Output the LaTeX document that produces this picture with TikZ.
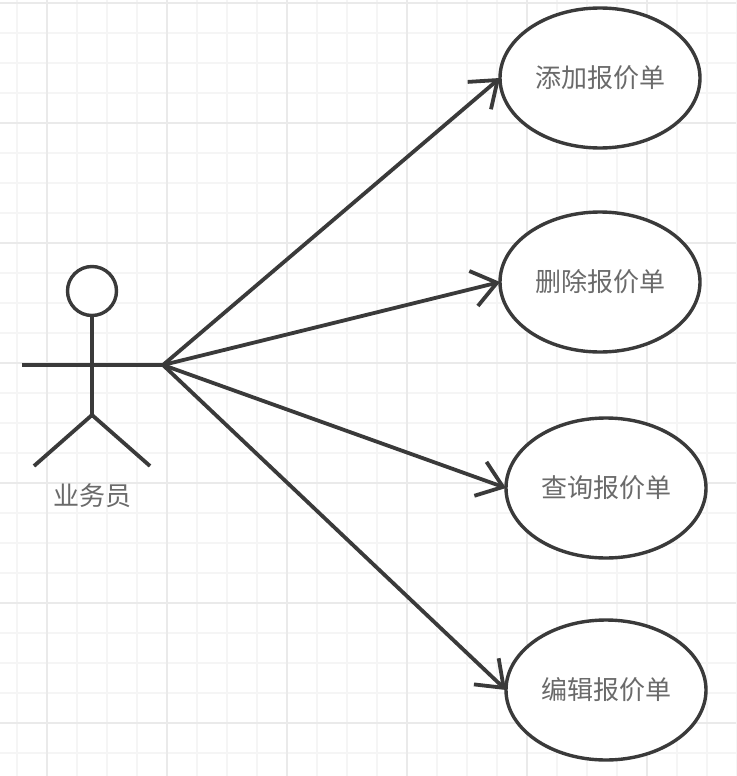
\documentclass[tikz,border=0pt]{standalone}
\usepackage{fontspec}
\setmainfont{Noto Sans CJK SC}
\usetikzlibrary{arrows.meta,shapes.geometric}
\definecolor{ink}{HTML}{3A3A3A}
\definecolor{word}{HTML}{6A6A6A}
\definecolor{gridminor}{HTML}{F5F5F5}
\definecolor{gridmajor}{HTML}{EAEAEA}
\tikzset{
    usecase/.style={ellipse, draw=ink, fill=white, line width=3.4pt, minimum width=200pt, minimum height=140pt, inner sep=0pt, outer sep=0pt, text=word, font=\fontsize{26}{30}\selectfont},
    stick/.style={draw=ink, line width=3.8pt},
    link/.style={stick, -{Straight Barb[length=24pt,width=36pt]}}
}
\begin{document}
\begin{tikzpicture}[x=1pt, y=-1pt]
    \useasboundingbox (0,0) rectangle (736,776);
    \fill[white] (0,0) rectangle (736,776);
    \foreach \i in {17,47,...,737} {
        \draw[gridminor, line width=2pt] (\i,0) -- (\i,776);
    }
    \foreach \i in {3,33,...,753} {
        \draw[gridminor, line width=2pt] (0,\i) -- (736,\i);
    }
    \foreach \i in {47,167,...,647} {
        \draw[gridmajor, line width=2pt] (\i,0) -- (\i,776);
    }
    \foreach \i in {3,123,...,723} {
        \draw[gridmajor, line width=2pt] (0,\i) -- (736,\i);
    }
    \node[circle, draw=ink, fill=white, line width=3.4pt, minimum size=49pt, inner sep=0pt, outer sep=0pt] (head) at (92,291) {};
    \coordinate (hip) at (92,415);
    \coordinate (lefthand) at (22,365);
    \coordinate (righthand) at (163,365);
    \coordinate (leftfoot) at (34,466);
    \coordinate (rightfoot) at (150,466);
    \draw[stick] (head) -- (hip);
    \draw[stick] (lefthand) -- (righthand);
    \draw[stick] (leftfoot) -- (hip) -- (rightfoot);
    \node[text=word, font=\fontsize{26}{30}\selectfont, inner sep=0pt] (actor) at (92,496) {业务员};
    \foreach \i/\x/\y/\name in {1/600/78/添加报价单,2/600/282/删除报价单,3/606/488/查询报价单,4/606/690/编辑报价单} {
        \node[usecase] (u\i) at (\x,\y) {\name};
        \draw[link] (righthand) -- (u\i.west);
    }
\end{tikzpicture}
\end{document}
